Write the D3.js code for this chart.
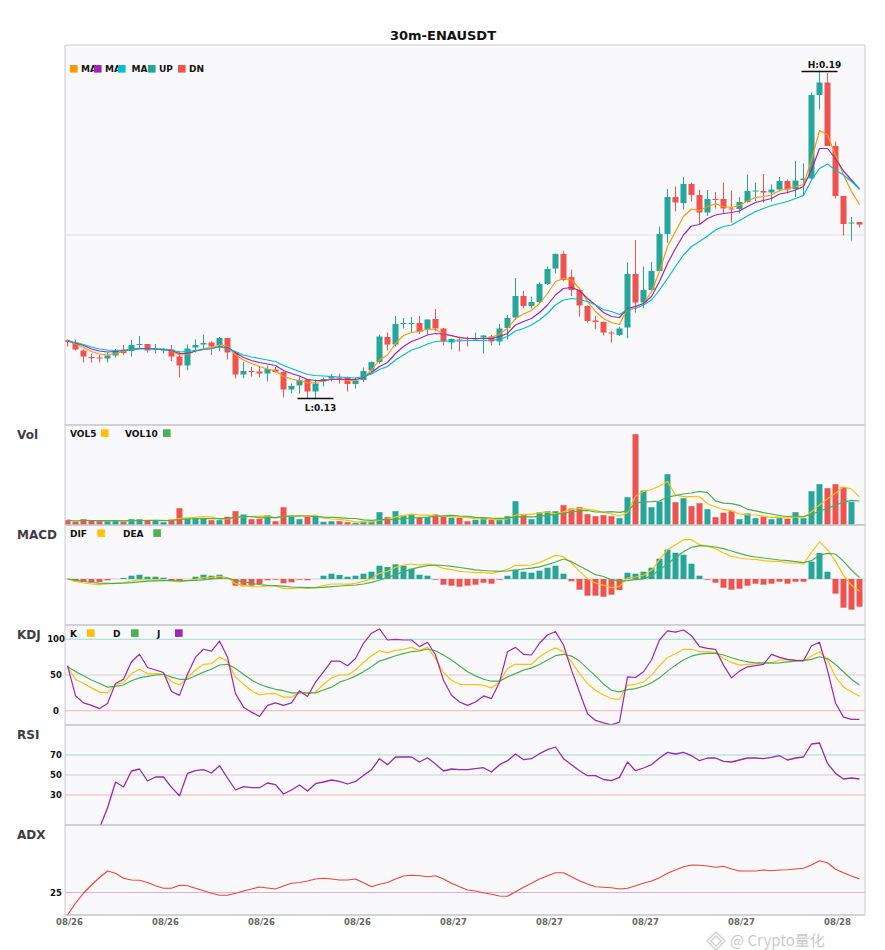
<!DOCTYPE html>
<html>
<head>
<meta charset="utf-8">
<script src="https://cdn.jsdelivr.net/npm/d3@7"></script>
<style>
  body { margin: 0; background: #fff; }
  svg { display: block; font-family: "DejaVu Sans", sans-serif; }
</style>
</head>
<body>
<script>
// 30m ENAUSDT candles, 100 bars
const title = '30m-ENAUSDT';
const xTickIdx = [0, 12, 24, 36, 48, 60, 72, 84, 96];
const xTickLabels = ['08/26', '08/26', '08/26', '08/26', '08/27', '08/27', '08/27', '08/27', '08/28'];

const open = [
  0.1390, 0.1385, 0.1369, 0.1356, 0.1355, 0.1353, 0.1359, 0.1368, 0.1368, 0.1381,
  0.1382, 0.1370, 0.1370, 0.1371, 0.1357, 0.1339, 0.1375, 0.1381, 0.1385, 0.1380,
  0.1394, 0.1365, 0.1321, 0.1328, 0.1327, 0.1323, 0.1331, 0.1326, 0.1291, 0.1299,
  0.1311, 0.1287, 0.1307, 0.1313, 0.1315, 0.1315, 0.1302, 0.1310, 0.1329, 0.1346,
  0.1396, 0.1381, 0.1423, 0.1423, 0.1424, 0.1411, 0.1432, 0.1413, 0.1385, 0.1391,
  0.1390, 0.1391, 0.1395, 0.1397, 0.1387, 0.1414, 0.1435, 0.1478, 0.1458, 0.1466,
  0.1502, 0.1533, 0.1562, 0.1516, 0.1490, 0.1458, 0.1429, 0.1426, 0.1405, 0.1400,
  0.1415, 0.1522, 0.1465, 0.1490, 0.1528, 0.1602, 0.1676, 0.1664, 0.1702, 0.1680,
  0.1645, 0.1672, 0.1672, 0.1653, 0.1652, 0.1666, 0.1687, 0.1688, 0.1685, 0.1691,
  0.1708, 0.1692, 0.1710, 0.1713, 0.1880, 0.1905, 0.1778, 0.1678, 0.1623, 0.1626
];
const high = [
  0.1391, 0.1391, 0.1371, 0.1363, 0.1360, 0.1365, 0.1372, 0.1380, 0.1390, 0.1398,
  0.1382, 0.1382, 0.1374, 0.1380, 0.1368, 0.1381, 0.1391, 0.1401, 0.1387, 0.1396,
  0.1394, 0.1368, 0.1346, 0.1336, 0.1338, 0.1339, 0.1336, 0.1327, 0.1303, 0.1317,
  0.1312, 0.1311, 0.1315, 0.1322, 0.1323, 0.1317, 0.1315, 0.1335, 0.1347, 0.1401,
  0.1405, 0.1438, 0.1434, 0.1436, 0.1438, 0.1431, 0.1452, 0.1414, 0.1393, 0.1397,
  0.1397, 0.1405, 0.1400, 0.1400, 0.1422, 0.1440, 0.1514, 0.1488, 0.1477, 0.1505,
  0.1537, 0.1563, 0.1568, 0.1531, 0.1491, 0.1459, 0.1438, 0.1427, 0.1408, 0.1417,
  0.1545, 0.1590, 0.1537, 0.1546, 0.1617, 0.1692, 0.1697, 0.1716, 0.1705, 0.1690,
  0.1690, 0.1686, 0.1705, 0.1689, 0.1676, 0.1721, 0.1705, 0.1722, 0.1701, 0.1716,
  0.1711, 0.1748, 0.1743, 0.1885, 0.1927, 0.1924, 0.1787, 0.1678, 0.1636, 0.1626
];
const low = [
  0.1377, 0.1369, 0.1345, 0.1345, 0.1345, 0.1345, 0.1355, 0.1361, 0.1357, 0.1372,
  0.1365, 0.1363, 0.1363, 0.1348, 0.1315, 0.1329, 0.1365, 0.1373, 0.1360, 0.1368,
  0.1351, 0.1313, 0.1313, 0.1317, 0.1315, 0.1307, 0.1325, 0.1275, 0.1283, 0.1283,
  0.1274, 0.1273, 0.1297, 0.1307, 0.1303, 0.1287, 0.1293, 0.1306, 0.1326, 0.1343,
  0.1369, 0.1377, 0.1413, 0.1405, 0.1402, 0.1401, 0.1408, 0.1379, 0.1371, 0.1367,
  0.1377, 0.1389, 0.1363, 0.1379, 0.1379, 0.1391, 0.1430, 0.1453, 0.1453, 0.1464,
  0.1500, 0.1523, 0.1508, 0.1478, 0.1437, 0.1425, 0.1412, 0.1399, 0.1385, 0.1398,
  0.1393, 0.1445, 0.1453, 0.1487, 0.1527, 0.1584, 0.1647, 0.1651, 0.1667, 0.1622,
  0.1638, 0.1653, 0.1643, 0.1625, 0.1643, 0.1665, 0.1668, 0.1665, 0.1667, 0.1687,
  0.1683, 0.1676, 0.1678, 0.1713, 0.1851, 0.1778, 0.1673, 0.1599, 0.1589, 0.1615
];
const close = [
  0.1386, 0.1371, 0.1357, 0.1355, 0.1353, 0.1359, 0.1368, 0.1364, 0.1380, 0.1382,
  0.1369, 0.1372, 0.1371, 0.1357, 0.1339, 0.1373, 0.1380, 0.1384, 0.1377, 0.1394,
  0.1365, 0.1321, 0.1328, 0.1326, 0.1323, 0.1332, 0.1326, 0.1291, 0.1298, 0.1310,
  0.1287, 0.1303, 0.1312, 0.1318, 0.1314, 0.1302, 0.1309, 0.1328, 0.1346, 0.1397,
  0.1381, 0.1422, 0.1424, 0.1424, 0.1407, 0.1431, 0.1413, 0.1387, 0.1392, 0.1389,
  0.1389, 0.1393, 0.1399, 0.1387, 0.1413, 0.1434, 0.1478, 0.1458, 0.1466, 0.1502,
  0.1532, 0.1562, 0.1510, 0.1490, 0.1459, 0.1428, 0.1426, 0.1405, 0.1403, 0.1413,
  0.1522, 0.1465, 0.1490, 0.1528, 0.1602, 0.1676, 0.1665, 0.1702, 0.1680, 0.1645,
  0.1672, 0.1670, 0.1653, 0.1651, 0.1666, 0.1688, 0.1689, 0.1685, 0.1691, 0.1708,
  0.1691, 0.1709, 0.1713, 0.1880, 0.1905, 0.1778, 0.1678, 0.1622, 0.1625, 0.1621
];

const ma5 = [
  0.1388, 0.1382, 0.1375, 0.1367, 0.1362, 0.1360, 0.1363, 0.1367, 0.1371, 0.1373,
  0.1373, 0.1372, 0.1371, 0.1368, 0.1360, 0.1361, 0.1368, 0.1373, 0.1375, 0.1380,
  0.1378, 0.1360, 0.1350, 0.1343, 0.1337, 0.1332, 0.1328, 0.1317, 0.1312, 0.1309,
  0.1304, 0.1305, 0.1308, 0.1312, 0.1311, 0.1309, 0.1309, 0.1315, 0.1330, 0.1350,
  0.1360, 0.1383, 0.1399, 0.1405, 0.1407, 0.1412, 0.1411, 0.1402, 0.1398, 0.1395,
  0.1393, 0.1393, 0.1393, 0.1395, 0.1402, 0.1413, 0.1433, 0.1442, 0.1449, 0.1463,
  0.1483, 0.1507, 0.1513, 0.1510, 0.1493, 0.1467, 0.1447, 0.1433, 0.1425, 0.1421,
  0.1453, 0.1457, 0.1463, 0.1487, 0.1527, 0.1577, 0.1607, 0.1637, 0.1652, 0.1649,
  0.1657, 0.1662, 0.1657, 0.1655, 0.1659, 0.1668, 0.1675, 0.1677, 0.1680, 0.1689,
  0.1692, 0.1697, 0.1701, 0.1750, 0.1809, 0.1800, 0.1760, 0.1720, 0.1687, 0.1661
];
const ma10 = [
  0.1388, 0.1384, 0.1379, 0.1372, 0.1368, 0.1366, 0.1367, 0.1369, 0.1371, 0.1373,
  0.1373, 0.1372, 0.1371, 0.1369, 0.1363, 0.1363, 0.1368, 0.1371, 0.1373, 0.1377,
  0.1375, 0.1365, 0.1355, 0.1349, 0.1345, 0.1342, 0.1339, 0.1329, 0.1323, 0.1318,
  0.1311, 0.1309, 0.1309, 0.1311, 0.1312, 0.1311, 0.1311, 0.1315, 0.1325, 0.1337,
  0.1345, 0.1363, 0.1377, 0.1387, 0.1393, 0.1400, 0.1403, 0.1402, 0.1399, 0.1395,
  0.1393, 0.1393, 0.1393, 0.1393, 0.1397, 0.1403, 0.1420, 0.1427, 0.1433, 0.1445,
  0.1460, 0.1480, 0.1493, 0.1495, 0.1489, 0.1473, 0.1460, 0.1445, 0.1437, 0.1435,
  0.1453, 0.1457, 0.1463, 0.1477, 0.1507, 0.1543, 0.1573, 0.1600, 0.1618, 0.1621,
  0.1633, 0.1640, 0.1643, 0.1645, 0.1648, 0.1657, 0.1665, 0.1669, 0.1673, 0.1682,
  0.1685, 0.1690, 0.1697, 0.1730, 0.1773, 0.1773, 0.1753, 0.1728, 0.1710, 0.1692
];
const ma20 = [
  0.1388, 0.1385, 0.1381, 0.1376, 0.1372, 0.1370, 0.1369, 0.1370, 0.1371, 0.1372,
  0.1372, 0.1372, 0.1372, 0.1370, 0.1366, 0.1367, 0.1369, 0.1371, 0.1373, 0.1376,
  0.1373, 0.1367, 0.1360, 0.1356, 0.1353, 0.1350, 0.1347, 0.1339, 0.1333, 0.1327,
  0.1321, 0.1319, 0.1318, 0.1317, 0.1316, 0.1315, 0.1314, 0.1317, 0.1322, 0.1331,
  0.1337, 0.1350, 0.1360, 0.1370, 0.1375, 0.1382, 0.1387, 0.1388, 0.1388, 0.1388,
  0.1389, 0.1389, 0.1389, 0.1390, 0.1391, 0.1397, 0.1408, 0.1413, 0.1420, 0.1430,
  0.1443, 0.1460, 0.1470, 0.1473, 0.1471, 0.1467, 0.1460, 0.1451, 0.1447, 0.1441,
  0.1451, 0.1453, 0.1460, 0.1470, 0.1490, 0.1513, 0.1537, 0.1560, 0.1577, 0.1587,
  0.1598, 0.1610, 0.1617, 0.1620, 0.1629, 0.1638, 0.1647, 0.1653, 0.1659, 0.1663,
  0.1667, 0.1673, 0.1679, 0.1710, 0.1733, 0.1742, 0.1730, 0.1720, 0.1707, 0.1692
];

// volume in millions
const volume = [
  0.43, 0.27, 0.53, 0.37, 0.37, 0.33, 0.40, 0.27, 0.53, 0.53,
  0.37, 0.37, 0.23, 0.50, 1.63, 0.60, 0.63, 0.57, 0.43, 0.43,
  0.77, 1.33, 1.00, 0.53, 0.57, 0.93, 0.33, 1.73, 0.77, 0.53,
  0.77, 0.87, 0.27, 0.33, 0.33, 0.23, 0.17, 0.30, 0.27, 1.23,
  0.73, 1.33, 0.90, 1.00, 0.67, 0.73, 1.00, 0.77, 0.67, 0.67,
  0.33, 0.47, 0.63, 0.47, 0.47, 0.83, 2.33, 0.93, 0.53, 1.23,
  1.33, 1.33, 1.93, 1.60, 1.73, 1.03, 0.83, 0.93, 0.83, 0.63,
  2.73, 9.03, 3.40, 1.73, 2.30, 5.03, 2.23, 2.63, 1.83, 2.13,
  1.53, 0.73, 1.17, 1.33, 0.53, 1.10, 0.63, 0.77, 0.53, 0.63,
  0.57, 1.23, 0.63, 3.33, 4.03, 3.63, 4.03, 3.73, 2.27, 0.03
];
const vol5 = [
  0.43, 0.35, 0.41, 0.40, 0.39, 0.37, 0.40, 0.35, 0.38, 0.41,
  0.42, 0.41, 0.41, 0.40, 0.62, 0.67, 0.72, 0.79, 0.77, 0.53,
  0.57, 0.71, 0.79, 0.81, 0.84, 0.87, 0.67, 0.82, 0.87, 0.86,
  0.83, 0.93, 0.64, 0.55, 0.51, 0.41, 0.27, 0.27, 0.26, 0.44,
  0.54, 0.77, 0.89, 1.04, 0.93, 0.93, 0.86, 0.83, 0.77, 0.77,
  0.69, 0.58, 0.55, 0.51, 0.47, 0.57, 0.95, 1.01, 1.02, 1.17,
  1.27, 1.07, 1.27, 1.48, 1.58, 1.52, 1.42, 1.22, 1.07, 0.85,
  1.19, 2.83, 3.32, 3.50, 3.84, 4.30, 2.94, 2.78, 2.80, 2.77,
  2.07, 1.77, 1.48, 1.38, 1.06, 0.97, 0.95, 0.87, 0.71, 0.73,
  0.63, 0.75, 0.72, 1.28, 1.96, 2.57, 3.13, 3.75, 3.54, 2.74
];
const vol10 = [
  0.43, 0.35, 0.41, 0.40, 0.39, 0.38, 0.39, 0.37, 0.39, 0.40,
  0.40, 0.41, 0.38, 0.39, 0.52, 0.55, 0.57, 0.60, 0.59, 0.58,
  0.62, 0.72, 0.79, 0.79, 0.69, 0.72, 0.69, 0.81, 0.84, 0.85,
  0.85, 0.80, 0.73, 0.71, 0.69, 0.62, 0.60, 0.46, 0.41, 0.48,
  0.48, 0.52, 0.58, 0.65, 0.69, 0.74, 0.82, 0.86, 0.91, 0.85,
  0.81, 0.72, 0.69, 0.64, 0.62, 0.63, 0.77, 0.78, 0.77, 0.82,
  0.92, 1.01, 1.14, 1.25, 1.38, 1.40, 1.25, 1.25, 1.28, 1.22,
  1.36, 2.13, 2.27, 2.29, 2.35, 2.75, 2.89, 3.05, 3.15, 3.31,
  3.19, 2.36, 2.13, 2.09, 1.92, 1.52, 1.36, 1.18, 1.05, 0.90,
  0.80, 0.85, 0.80, 1.00, 1.35, 1.60, 1.94, 2.24, 2.41, 2.35
];

const dif = [
  0, -0.000233, -0.0004, -0.0005, -0.000567, -0.0005, -0.000433, -0.000367, -0.0002, -0.000067,
  -0.0001, -0.000067, -0.0001, -0.0002, -0.0003, -0.000167, -0.000033, 0.000133, 0.000167, 0.000267,
  0.000133, -0.000467, -0.000633, -0.000767, -0.0008, -0.0007, -0.0007, -0.000933, -0.000967, -0.000867,
  -0.000933, -0.000867, -0.000667, -0.0005, -0.0005, -0.000533, -0.000433, -0.000233, 0.000033, 0.000567,
  0.000767, 0.001167, 0.0014, 0.0015, 0.0014, 0.0015, 0.001367, 0.001067, 0.000933, 0.000767,
  0.0007, 0.000633, 0.000667, 0.000567, 0.000733, 0.000967, 0.001367, 0.001367, 0.0014, 0.001633,
  0.002, 0.002367, 0.002233, 0.0016, 0.000767, 0.000033, -0.0004, -0.000633, -0.000867, -0.000733,
  0.0001, 0.0002, 0.000367, 0.000867, 0.001933, 0.002933, 0.003433, 0.003933, 0.003933, 0.003433,
  0.003267, 0.003033, 0.0026, 0.002267, 0.0021, 0.002, 0.001967, 0.001833, 0.001767, 0.001767,
  0.0016, 0.0016, 0.0015, 0.002667, 0.0037, 0.002933, 0.001767, 0.000367, -0.000633, -0.001233
];
const dea = [
  0, -0.000117, -0.00025, -0.00035, -0.000417, -0.000433, -0.000433, -0.000417, -0.000367, -0.000283,
  -0.000217, -0.000183, -0.000167, -0.00015, -0.000183, -0.000167, -0.00015, -0.000083, 0, 0.00005,
  0.0001, -0.000133, -0.000267, -0.000433, -0.000567, -0.000633, -0.000667, -0.000717, -0.0008, -0.000833,
  -0.000867, -0.000867, -0.000833, -0.000767, -0.0007, -0.00065, -0.0006, -0.0005, -0.000333, -0.0001,
  0.000167, 0.000433, 0.000733, 0.000983, 0.001183, 0.001333, 0.0014, 0.00135, 0.001267, 0.00115,
  0.001033, 0.000917, 0.00085, 0.0008, 0.000767, 0.0008, 0.0009, 0.001, 0.001083, 0.001217,
  0.001433, 0.0017, 0.002, 0.001733, 0.0013, 0.000867, 0.000433, 0.00025, -0.000083, -0.000217,
  -0.000167, -0.000067, 0, 0.000333, 0.000933, 0.0015, 0.002167, 0.002733, 0.003167, 0.003333,
  0.0033, 0.0032, 0.003033, 0.0028, 0.002567, 0.002333, 0.0022, 0.0021, 0.002, 0.0019,
  0.001833, 0.001733, 0.001633, 0.001833, 0.0024, 0.002567, 0.0025, 0.001767, 0.0009, 0.000133
];
const macdHist = [
  0, -0.00023, -0.0003, -0.0003, -0.0003, -0.00013, 0, 0.0001, 0.00033, 0.00043,
  0.00023, 0.00023, 0.00013, -0.0001, -0.00023, 0, 0.00023, 0.00043, 0.00033, 0.00043,
  0.00007, -0.00067, -0.00073, -0.00067, -0.0005, -0.00013, -0.00007, -0.00043, -0.00033, -0.00007,
  -0.00013, 0, 0.00033, 0.00053, 0.0004, 0.00023, 0.00033, 0.00053, 0.00073, 0.00133,
  0.0012, 0.00147, 0.00133, 0.00103, 0.00043, 0.00033, -0.00007, -0.00057, -0.00067, -0.00077,
  -0.00067, -0.00057, -0.00037, -0.00047, -0.00007, 0.00033, 0.00093, 0.00073, 0.00063, 0.00083,
  0.00113, 0.00133, 0.00053, -0.00023, -0.00107, -0.00167, -0.00167, -0.00177, -0.00157, -0.0011,
  0.00063, 0.00053, 0.00073, 0.00113, 0.00203, 0.00293, 0.00263, 0.00243, 0.00153, 0.00033,
  -0.00007, -0.00037, -0.00087, -0.00107, -0.00097, -0.00067, -0.00047, -0.00057, -0.00047, -0.00027,
  -0.00047, -0.00027, -0.00027, 0.00173, 0.0026, 0.00073, -0.00147, -0.00287, -0.00307, -0.00277
];

const kdjK = [
  61.5, 44, 38, 32, 26, 25, 37, 39, 52, 58,
  52, 52, 51, 41, 36, 46, 57, 65, 66, 75,
  69, 47, 37, 28, 22, 24, 24, 19, 19, 26,
  24, 26, 37, 46, 50, 50, 57, 67.6, 77, 84,
  81, 84.5, 86, 88.7, 84.5, 88.7, 73, 53.5, 42.7, 37,
  36.6, 36.6, 35.7, 32, 40, 59, 65, 65, 65, 75.6,
  82.6, 88, 82.6, 68.5, 52, 38, 28.6, 22, 17, 16,
  35.7, 37, 40, 49.8, 63, 74.6, 79.8, 86, 86, 82.6,
  82.6, 81, 73, 67.6, 63.8, 64.8, 65.7, 67, 67, 71,
  71.4, 71, 70, 76.5, 82.6, 71, 47.4, 33.3, 26.3, 20.2
];
const kdjD = [
  61.5, 55, 49, 43, 38, 33, 34, 36, 42, 46,
  48, 50, 51, 47, 44, 44, 49, 54, 58, 64,
  65, 59, 51, 43, 37, 33, 30, 28, 25, 25,
  25, 25, 29, 33, 40, 43.7, 48.4, 54.5, 61.5, 69.5,
  73, 77, 80, 82.6, 83.6, 86.4, 84, 78, 71, 63,
  54.5, 48.8, 44, 41.3, 41.3, 47.4, 52, 56.8, 60, 64.8,
  71, 77, 79, 76.5, 69.5, 59, 48.8, 37.5, 28.6, 26.3,
  29.6, 31, 34.3, 39, 46, 55.4, 63.8, 71, 76.5, 79.3,
  80.3, 80.3, 78, 74.2, 71, 68.5, 67, 67, 66.7, 67,
  68.5, 69.5, 70, 71.8, 75.6, 73, 64.8, 54.5, 44, 35.7
];
const kdjJ = [
  63, 21, 11, 7.5, 3, 10, 38, 44, 68.5, 79,
  60.5, 57, 53.5, 27, 21.5, 51, 75, 86, 83.5, 97.5,
  75, 24, 5, -2, -8, 7.5, 11, 7.5, 11, 28,
  20, 40, 54.5, 69.5, 69.5, 63, 73, 94.4, 108.5, 114.5,
  99, 100, 99, 99, 89.7, 95.8, 78, 42.7, 21.6, 12.2,
  7.5, 12.2, 20.7, 17, 40, 82.6, 88.7, 79, 78, 94.4,
  106, 110.8, 92, 56.8, 26.3, -4.2, -13.6, -17, -19.7, -16,
  47.4, 46.5, 54.5, 71, 99, 111.7, 110, 113, 105, 89.7,
  87.3, 86, 63.8, 46, 55.4, 61.5, 63, 64.8, 78.9, 74.6,
  71.8, 70.4, 70, 91, 95.8, 56.8, 10.8, -9, -12.2, -12.2
];

const rsi = [
  null, null, null, null, -3, 17, 43, 38, 54, 56,
  44, 48, 48, 37.6, 29.3, 51.6, 54.3, 55.3, 52, 59.3,
  47, 35, 38.3, 37.3, 37.3, 42, 40.3, 31, 35, 40,
  34, 41.3, 43, 45, 43.6, 41, 43.6, 49.6, 55.3, 66.3,
  60.3, 68, 68, 68, 63, 67.3, 61, 54, 56, 55.3,
  55.3, 56.3, 57.3, 53, 60.3, 64.3, 71, 65.3, 66.3, 71.3,
  75.3, 78, 66.3, 60.3, 54.3, 49.3, 49.3, 45.5, 44.3, 47.6,
  63, 54.3, 57, 60.3, 67, 72.6, 71, 72.6, 69.3, 64.3,
  67, 67, 63.6, 63, 65, 67, 67, 66.3, 67.6, 69.3,
  65, 67, 68, 81, 82, 61.6, 51.6, 46, 47, 46
];
const adx = [
  16, 20.7, 24.7, 28, 31, 33.6, 32.7, 30.7, 30, 29.9,
  29, 27.7, 26.7, 26.7, 27.9, 27.7, 26.7, 25.7, 24.7, 23.9,
  23.9, 24.7, 25.6, 26.4, 27.2, 26.8, 26.4, 27.6, 28.7, 29,
  29.6, 30.4, 30.7, 30.4, 30, 30, 30.4, 28.9, 27.3, 28.3,
  29, 30.4, 31.6, 31.9, 31.7, 31.3, 31.7, 30.4, 28.7, 27.3,
  26, 25.6, 24.9, 24.3, 23.6, 23.5, 25.3, 27.1, 28.7, 30.4,
  31.7, 32.9, 32.9, 31.3, 29.7, 28.4, 27.3, 27.1, 26.9, 26.4,
  26.7, 27.7, 28.7, 29.6, 30.9, 32.7, 34, 35.3, 36, 35.9,
  35.6, 35.1, 35.5, 34.4, 33.6, 33.6, 33.6, 34, 33.7, 34,
  34.1, 34.4, 34.7, 36, 37.7, 36.9, 34.3, 32.9, 31.6, 30.4
];

const UP = '#26a69a', DN = '#ef5350';
const C_MA5 = '#ff9800', C_MA10 = '#9c27b0', C_MA20 = '#00bcd4';
const C_Y = '#ffc107', C_G = '#4caf50', C_P = '#9c27b0';

const W = 885, H = 950, left = 65, right = 865;
const panels = {
  main: [45, 425], vol: [425, 525], macd: [525, 625],
  kdj: [625, 725], rsi: [725, 825], adx: [825, 915]
};
const n = close.length;

const svg = d3.select('body').append('svg').attr('width', W).attr('height', H);
const defs = svg.append('defs');

// panel backgrounds + clip paths
Object.entries(panels).forEach(([k, [t, b]]) => {
  svg.append('rect').attr('x', left).attr('y', t).attr('width', right - left).attr('height', b - t)
    .attr('fill', '#f9f9fb');
  defs.append('clipPath').attr('id', 'clip-' + k).append('rect')
    .attr('x', left).attr('y', t).attr('width', right - left).attr('height', b - t);
});

const x = d3.scalePoint().domain(d3.range(n)).range([67.5, 859.5]);
const yMain = d3.scaleLinear().domain([0.122, 0.198]).range([425, 45]);
const yVol = d3.scaleLinear().domain([0, 10]).range([524.5, 424.5]);
const yMacd = d3.scaleLinear().domain([-0.0046, 0.0054]).range([625, 525]);
const yKdj = d3.scaleLinear().domain([-20, 120]).range([725, 625]);
const yRsi = d3.scaleLinear().domain([0, 100]).range([825, 725]);
const yAdx = d3.scaleLinear().domain([16, 52]).range([915, 825]);

function panelG(k) {
  return svg.append('g').attr('clip-path', `url(#clip-${k})`);
}
function hline(g, y, color) {
  g.append('line').attr('x1', left).attr('x2', right).attr('y1', y).attr('y2', y)
    .attr('stroke', color).attr('stroke-width', 1);
}
function series(g, values, yScale, color, w) {
  const line = d3.line()
    .defined(d => d != null)
    .x((d, i) => x(i))
    .y(d => yScale(d));
  g.append('path').datum(values).attr('d', line)
    .attr('fill', 'none').attr('stroke', color).attr('stroke-width', w || 1.2)
    .attr('stroke-linejoin', 'round');
}
const isUp = i => close[i] >= open[i];

// ---- main candles
const gMain = panelG('main');
hline(gMain, yMain(0.16), '#dedee2');
const candles = gMain.selectAll('.candle').data(d3.range(n)).enter().append('g');
candles.append('line')
  .attr('x1', i => x(i)).attr('x2', i => x(i))
  .attr('y1', i => yMain(high[i])).attr('y2', i => yMain(low[i]))
  .attr('stroke', i => isUp(i) ? UP : DN).attr('stroke-width', 1);
candles.append('rect')
  .attr('x', i => x(i) - 3).attr('width', 6)
  .attr('y', i => yMain(Math.max(open[i], close[i])))
  .attr('height', i => Math.max(1, Math.abs(yMain(open[i]) - yMain(close[i]))))
  .attr('fill', i => isUp(i) ? UP : DN);
series(gMain, ma5, yMain, C_MA5);
series(gMain, ma10, yMain, C_MA10);
series(gMain, ma20, yMain, C_MA20);

// high / low markers
const hi = d3.maxIndex(high), lo = d3.minIndex(low);
svg.append('line').attr('x1', x(hi) - 18).attr('x2', x(hi) + 18)
  .attr('y1', yMain(high[hi])).attr('y2', yMain(high[hi])).attr('stroke', '#111').attr('stroke-width', 1.4);
svg.append('text').attr('x', x(hi) + 5).attr('y', yMain(high[hi]) - 4).attr('text-anchor', 'middle')
  .attr('font-size', 9).attr('font-weight', 'bold').attr('fill', '#111').text('H:' + high[hi].toFixed(2));
svg.append('line').attr('x1', x(lo) - 18).attr('x2', x(lo) + 18)
  .attr('y1', yMain(low[lo])).attr('y2', yMain(low[lo])).attr('stroke', '#111').attr('stroke-width', 1.4);
svg.append('text').attr('x', x(lo) + 5).attr('y', yMain(low[lo]) + 12).attr('text-anchor', 'middle')
  .attr('font-size', 9).attr('font-weight', 'bold').attr('fill', '#111').text('L:' + low[lo].toFixed(2));

// ---- volume
const gVol = panelG('vol');
gVol.selectAll('rect').data(volume).enter().append('rect')
  .attr('x', (d, i) => x(i) - 3).attr('width', 6)
  .attr('y', d => yVol(d)).attr('height', d => yVol(0) - yVol(d))
  .attr('fill', (d, i) => isUp(i) ? UP : DN);
series(gVol, vol5, yVol, C_Y);
series(gVol, vol10, yVol, C_G);

// ---- MACD
const gMacd = panelG('macd');
hline(gMacd, yMacd(0), '#d0d0d4');
gMacd.selectAll('rect').data(macdHist).enter().append('rect')
  .attr('x', (d, i) => x(i) - 3).attr('width', 6)
  .attr('y', d => Math.min(yMacd(d), yMacd(0)))
  .attr('height', d => Math.abs(yMacd(d) - yMacd(0)))
  .attr('fill', d => d >= 0 ? UP : DN);
series(gMacd, dif, yMacd, C_Y);
series(gMacd, dea, yMacd, C_G);

// ---- KDJ
const gKdj = panelG('kdj');
hline(gKdj, yKdj(100), '#9fd9d2');
hline(gKdj, yKdj(50), '#cfcfd3');
hline(gKdj, yKdj(0), '#f5b3b3');
series(gKdj, kdjK, yKdj, C_Y);
series(gKdj, kdjD, yKdj, C_G);
series(gKdj, kdjJ, yKdj, C_P);

// ---- RSI
const gRsi = panelG('rsi');
hline(gRsi, yRsi(70), '#9fd9d2');
hline(gRsi, yRsi(50), '#cfcfd3');
hline(gRsi, yRsi(30), '#f5b3b3');
series(gRsi, rsi, yRsi, C_P, 1.3);

// ---- ADX
const gAdx = panelG('adx');
hline(gAdx, yAdx(25), '#dcaee4');
series(gAdx, adx, yAdx, '#f44336', 1.2);

// ---- frame
svg.append('line').attr('x1', left).attr('x2', right).attr('y1', 45).attr('y2', 45).attr('stroke', '#cacad2');
[425, 525, 625, 725, 825, 915].forEach(y => {
  svg.append('line').attr('x1', left).attr('x2', right).attr('y1', y).attr('y2', y)
    .attr('stroke', '#aaaab0').attr('stroke-width', 1.2);
});
[left, right].forEach(xx => {
  svg.append('line').attr('x1', xx).attr('x2', xx).attr('y1', 45).attr('y2', 915)
    .attr('stroke', '#cacad2').attr('stroke-width', 1);
});

// ---- axis value labels
const axisLabels = [
  [yKdj, [100, 50, 0]], [yRsi, [70, 50, 30]], [yAdx, [25]]
];
axisLabels.forEach(([sc, vals]) => {
  vals.forEach(v => {
    svg.append('text').attr('x', 56).attr('y', sc(v) + 3).attr('text-anchor', 'middle')
      .attr('font-size', 8.5).attr('font-weight', 'bold').attr('fill', '#111').text(v);
  });
});

// x tick labels
xTickIdx.forEach((idx, k) => {
  svg.append('text').attr('x', x(idx) + 2).attr('y', 925).attr('text-anchor', 'middle')
    .attr('font-size', 8.5).attr('font-weight', 'bold').attr('fill', '#666').text(xTickLabels[k]);
});

// title and panel names
svg.append('text').attr('x', 443).attr('y', 40).attr('text-anchor', 'middle')
  .attr('font-size', 13).attr('font-weight', 'bold').attr('fill', '#111').text(title);
[['Vol', 425], ['MACD', 525], ['KDJ', 625], ['RSI', 725], ['ADX', 825]].forEach(([t, top]) => {
  svg.append('text').attr('x', 17).attr('y', top + 14)
    .attr('font-size', 12).attr('font-weight', 'bold').attr('fill', '#3d3d46').text(t);
});

// legends
function legendItem(xs, y, color, xt, label) {
  svg.append('text').attr('x', xt).attr('y', y + 7.3)
    .attr('font-size', 9).attr('font-weight', 'bold').attr('fill', '#111').text(label);
  svg.append('rect').attr('x', xs).attr('y', y).attr('width', 7.6).attr('height', 7.6).attr('fill', color);
}
// main legend: square first, then label
[[70, C_MA5, 'MA'], [94, C_MA10, 'MA'], [118, C_MA20, 'MA'], [148, UP, 'UP'], [178, DN, 'DN']]
  .forEach(([xs, c, t]) => {
    svg.append('rect').attr('x', xs).attr('y', 65).attr('width', 7.6).attr('height', 7.6).attr('fill', c);
    svg.append('text').attr('x', xs === 118 ? 131.5 : xs + 11).attr('y', 72.4)
      .attr('font-size', 9).attr('font-weight', 'bold').attr('fill', '#111').text(t);
  });
legendItem(101, 429.3, C_Y, 70, 'VOL5');
legendItem(163, 429.3, C_G, 125, 'VOL10');
legendItem(97.3, 529.3, C_Y, 70, 'DIF');
legendItem(153.3, 529.3, C_G, 123, 'DEA');
legendItem(87, 629.3, C_Y, 70, 'K');
legendItem(131, 629.3, C_G, 113, 'D');
legendItem(175, 629.3, C_P, 157, 'J');

// watermark, kept just under the date labels
const wm = svg.append('g').attr('opacity', 0.45);
wm.append('path').attr('d', 'M716,932 L725,941 L716,950 L707,941 Z M716,936 L721,941 L716,946 L711,941 Z')
  .attr('fill', 'none').attr('stroke', '#9a9a9a').attr('stroke-width', 1.4);
wm.append('text').attr('x', 730).attr('y', 946).attr('font-family', '"Noto Sans CJK SC", "Noto Sans", sans-serif')
  .attr('font-size', 15).attr('fill', '#8a8a8a').text('@ Crypto量化');
</script>
</body>
</html>
